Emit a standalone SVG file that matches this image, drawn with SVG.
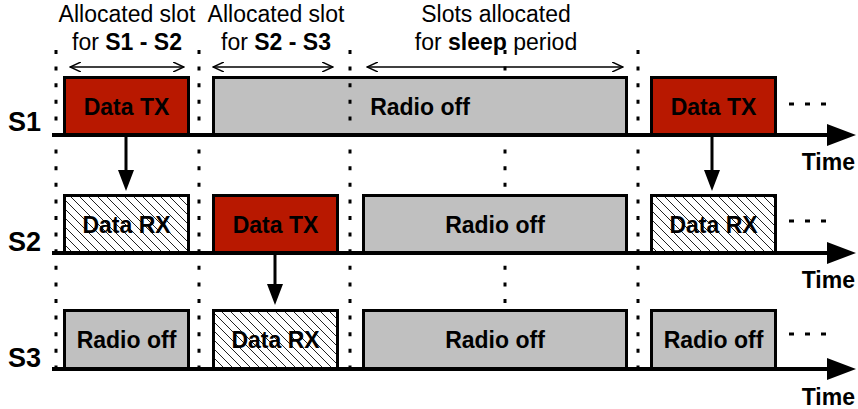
<svg xmlns="http://www.w3.org/2000/svg" width="858" height="409" viewBox="0 0 858 409">
<style>
text{font-family:"Liberation Sans",Arial,sans-serif;fill:#000}
.hdr{font-size:23px;text-anchor:middle}
.lbl{font-size:23px;font-weight:bold;text-anchor:middle}
.sn{font-size:27px;font-weight:bold}
.tm{font-size:23px;font-weight:bold;text-anchor:end}
.box{stroke:#000;stroke-width:3}
.tx{fill:#B81800}
.off{fill:#C0C0C0}
.rx{fill:url(#hatch)}
.dot{stroke:#000;stroke-width:3;stroke-dasharray:4 12.6;fill:none}
.axis{stroke:#000;stroke-width:4;fill:none}
.more{stroke:#000;stroke-width:3;stroke-dasharray:5 11;fill:none}
.va{stroke:#000;stroke-width:3;fill:none}
.span{stroke:#000;stroke-width:1.5;fill:none}
</style>
<defs>
<pattern id="hatch" patternUnits="userSpaceOnUse" width="9" height="9">
<rect width="9" height="9" fill="#fff"/>
<path d="M-2,-2 L11,11 M-2,7 L2,11 M7,-2 L11,2" stroke="#222" stroke-width="1"/>
</pattern>
<marker id="open" viewBox="0 0 12 10" refX="11" refY="5" markerWidth="12" markerHeight="10" markerUnits="userSpaceOnUse" orient="auto-start-reverse">
<path d="M0,0 L11,5 L0,10" fill="none" stroke="#000" stroke-width="1.5"/>
</marker>
</defs>

<!-- dotted line behind boxes -->
<path class="dot" d="M505,50 V367"/>

<g id="header">
<text class="hdr" x="127" y="22">Allocated slot</text>
<text class="hdr" x="127" y="50">for <tspan font-weight="bold">S1 - S2</tspan></text>
<text class="hdr" x="276" y="22">Allocated slot</text>
<text class="hdr" x="276" y="50">for <tspan font-weight="bold">S2 - S3</tspan></text>
<text class="hdr" x="496" y="22">Slots allocated</text>
<text class="hdr" x="496" y="50">for <tspan font-weight="bold">sleep</tspan> period</text>
</g>

<g id="S1">
<text class="sn" x="8" y="131">S1</text>
<rect class="box tx" x="64.5" y="77.5" width="124" height="57.5"/>
<text class="lbl" x="126.5" y="115">Data TX</text>
<rect class="box off" x="213.5" y="77.5" width="413" height="57.5"/>
<text class="lbl" x="420" y="115">Radio off</text>
<rect class="box tx" x="651.5" y="77.5" width="124" height="57.5"/>
<text class="lbl" x="713.5" y="115">Data TX</text>
<text class="tm" x="855" y="170">Time</text>
</g>

<g id="S2">
<text class="sn" x="8" y="251">S2</text>
<rect class="box rx" x="64.5" y="195.5" width="124" height="57.5"/>
<text class="lbl" x="126.5" y="233">Data RX</text>
<rect class="box tx" x="213.5" y="195.5" width="124" height="57.5"/>
<text class="lbl" x="275.5" y="233">Data TX</text>
<rect class="box off" x="363.5" y="195.5" width="263" height="57.5"/>
<text class="lbl" x="495" y="233">Radio off</text>
<rect class="box rx" x="651.5" y="195.5" width="124" height="57.5"/>
<text class="lbl" x="713.5" y="233">Data RX</text>
<text class="tm" x="855" y="288">Time</text>
</g>

<g id="S3">
<text class="sn" x="8" y="367">S3</text>
<rect class="box off" x="64.5" y="310.5" width="124" height="58"/>
<text class="lbl" x="126.5" y="348">Radio off</text>
<rect class="box rx" x="213.5" y="310.5" width="124" height="58"/>
<text class="lbl" x="275.5" y="348">Data RX</text>
<rect class="box off" x="363.5" y="310.5" width="263" height="58"/>
<text class="lbl" x="495" y="348">Radio off</text>
<rect class="box off" x="651.5" y="310.5" width="124" height="58"/>
<text class="lbl" x="713.5" y="348">Radio off</text>
<text class="tm" x="855" y="405">Time</text>
</g>

<g id="slot-dividers">
<path class="dot" d="M56,50 V367 M199,50 V367 M350,50 V367 M638,50 V367"/>
</g>

<g id="connectors">
<path class="axis" d="M52,135 H830 M52,253 H830 M52,369 H830"/>
<path d="M827,124 L856,135 L827,146 Z M827,242 L856,253 L827,264 Z M827,358 L856,369 L827,380 Z" fill="#000"/>
<path class="more" d="M789,104 H826 M789,221 H826 M789,334 H826"/>
<path class="va" d="M126,137 V172 M275,255 V286 M712,137 V172"/>
<path d="M118,170 L126,191 L134,170 Z M267,284 L275,305 L283,284 Z M704,170 L712,191 L720,170 Z" fill="#000"/>
<path class="span" d="M70,67 H184" marker-start="url(#open)" marker-end="url(#open)"/>
<path class="span" d="M213,67 H333" marker-start="url(#open)" marker-end="url(#open)"/>
<path class="span" d="M367,67 H623" marker-start="url(#open)" marker-end="url(#open)"/>
</g>
</svg>
